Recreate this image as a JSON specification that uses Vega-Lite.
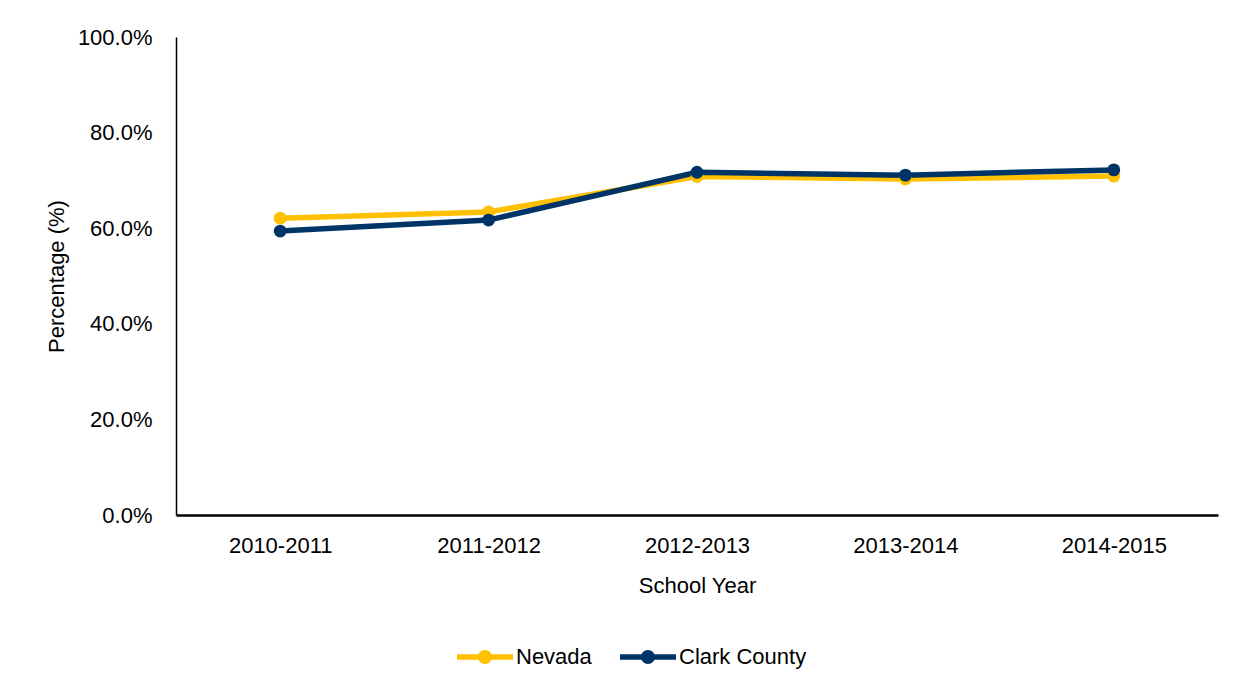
{
  "$schema": "https://vega.github.io/schema/vega-lite/v6.json",
  "width": 1042,
  "height": 478,
  "autosize": {"type": "none"},
  "padding": {"left": 176, "top": 37, "right": 26, "bottom": 175},
  "background": "white",
  "config": {
    "view": {"stroke": null},
    "font": "'Arial Narrow', 'Liberation Sans Narrow', 'Liberation Sans', Arial, sans-serif",
    "axis": {"labelFont": "'Arial Narrow', 'Liberation Sans Narrow', 'Liberation Sans', Arial, sans-serif", "titleFont": "'Arial Narrow', 'Liberation Sans Narrow', 'Liberation Sans', Arial, sans-serif", "labelColor": "black", "titleColor": "black", "titleFontWeight": "normal", "grid": false, "ticks": false, "tickSize": 0, "domainColor": "black"},
    "legend": {"labelFont": "'Arial Narrow', 'Liberation Sans Narrow', 'Liberation Sans', Arial, sans-serif", "labelColor": "black"}
  },
  "data": {
    "values": [
      {"year": "2010-2011", "series": "Nevada", "pct": 0.621},
      {"year": "2011-2012", "series": "Nevada", "pct": 0.634},
      {"year": "2012-2013", "series": "Nevada", "pct": 0.708},
      {"year": "2013-2014", "series": "Nevada", "pct": 0.703},
      {"year": "2014-2015", "series": "Nevada", "pct": 0.709},
      {"year": "2010-2011", "series": "Clark County", "pct": 0.594},
      {"year": "2011-2012", "series": "Clark County", "pct": 0.617},
      {"year": "2012-2013", "series": "Clark County", "pct": 0.717},
      {"year": "2013-2014", "series": "Clark County", "pct": 0.711},
      {"year": "2014-2015", "series": "Clark County", "pct": 0.722}
    ]
  },
  "encoding": {
    "x": {
      "field": "year", "type": "ordinal", "title": "School Year",
      "scale": {"type": "point", "padding": 0.5},
      "axis": {"labelAngle": 0, "labelFontSize": 22, "titleFontSize": 22, "labelPadding": 20, "titlePadding": 19, "domainWidth": 2.5}
    },
    "y": {
      "field": "pct", "type": "quantitative", "title": "Percentage (%)",
      "scale": {"domain": [0, 1], "nice": false},
      "axis": {"format": ".1%", "values": [0, 0.2, 0.4, 0.6, 0.8, 1.0], "labelFontSize": 22, "titleFontSize": 22, "labelPadding": 24, "titlePadding": 9, "domainWidth": 1.5}
    },
    "color": {
      "field": "series", "type": "nominal",
      "scale": {"domain": ["Nevada", "Clark County"], "range": ["#FFC000", "#003366"]},
      "legend": {
        "title": null, "orient": "none", "direction": "horizontal",
        "legendX": 281, "legendY": 592,
        "labelFontSize": 22, "labelOffset": 3, "columnPadding": 28,
        "symbolType": "M-1,-0.1L1,-0.1L1,0.1L-1,0.1Z M0.25,0A0.25,0.25 0 1,1 -0.25,0A0.25,0.25 0 1,1 0.25,0Z",
        "symbolSize": 3136, "symbolStrokeWidth": 0,
        "encode": {"symbols": {"update": {"fill": {"scale": "color", "field": "value"}, "strokeWidth": {"value": 0}, "opacity": {"value": 1}}}}
      }
    }
  },
  "layer": [
    {"mark": {"type": "line", "strokeWidth": 5.5}},
    {"mark": {"type": "point", "filled": true, "size": 165, "opacity": 1}}
  ]
}
